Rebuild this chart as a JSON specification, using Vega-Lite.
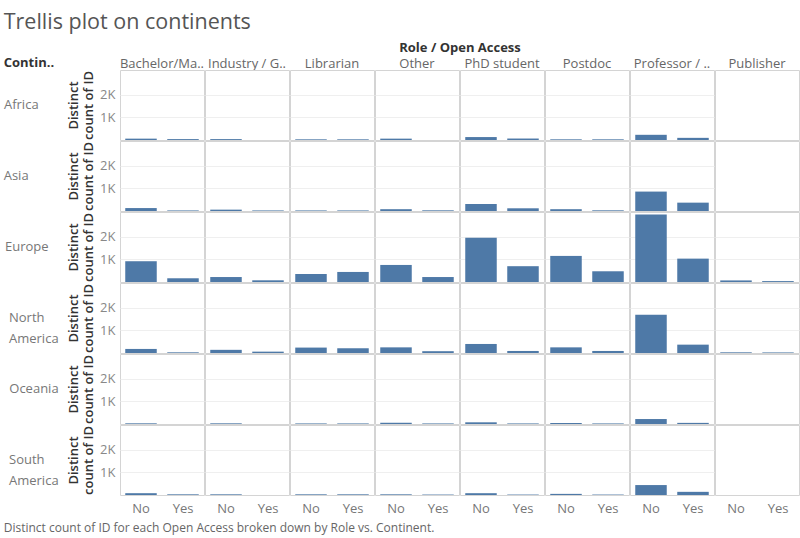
{
  "$schema": "https://vega.github.io/schema/vega-lite/v6.json",
  "background": "white",
  "padding": {"left": 3, "top": 11, "right": 1, "bottom": 2},
  "title": {
    "text": "Trellis plot on continents", "anchor": "start", "fontSize": 21.5, "font": "Open Sans", "fontWeight": "normal", "color": "#555555",
    "subtitle": "Contin..", "subtitleFont": "Open Sans", "subtitleFontSize": 13, "subtitleFontWeight": "bold", "subtitleColor": "#333333", "subtitlePadding": 24,
    "offset": -28
  },
  "vconcat": [
    {
      "title": {"text": "Distinct count of ID for each Open Access broken down by Role vs. Continent.", "orient": "bottom", "anchor": "start", "fontSize": 12, "font": "Open Sans", "fontWeight": "normal", "color": "#666666", "offset": 8},
      "data": {"values": [
        {"Continent": "Africa", "Role": "Bachelor/Ma..", "Open Access": "No", "Count": 60},
        {"Continent": "Africa", "Role": "Bachelor/Ma..", "Open Access": "Yes", "Count": 40},
        {"Continent": "Africa", "Role": "Industry / G..", "Open Access": "No", "Count": 40},
        {"Continent": "Africa", "Role": "Librarian", "Open Access": "No", "Count": 30},
        {"Continent": "Africa", "Role": "Librarian", "Open Access": "Yes", "Count": 30},
        {"Continent": "Africa", "Role": "Other", "Open Access": "No", "Count": 60},
        {"Continent": "Africa", "Role": "PhD student", "Open Access": "No", "Count": 130},
        {"Continent": "Africa", "Role": "PhD student", "Open Access": "Yes", "Count": 65},
        {"Continent": "Africa", "Role": "Postdoc", "Open Access": "No", "Count": 30},
        {"Continent": "Africa", "Role": "Postdoc", "Open Access": "Yes", "Count": 30},
        {"Continent": "Africa", "Role": "Professor / ..", "Open Access": "No", "Count": 230},
        {"Continent": "Africa", "Role": "Professor / ..", "Open Access": "Yes", "Count": 95},
        {"Continent": "Asia", "Role": "Bachelor/Ma..", "Open Access": "No", "Count": 130},
        {"Continent": "Asia", "Role": "Bachelor/Ma..", "Open Access": "Yes", "Count": 25},
        {"Continent": "Asia", "Role": "Industry / G..", "Open Access": "No", "Count": 60},
        {"Continent": "Asia", "Role": "Industry / G..", "Open Access": "Yes", "Count": 25},
        {"Continent": "Asia", "Role": "Librarian", "Open Access": "No", "Count": 25},
        {"Continent": "Asia", "Role": "Librarian", "Open Access": "Yes", "Count": 25},
        {"Continent": "Asia", "Role": "Other", "Open Access": "No", "Count": 80},
        {"Continent": "Asia", "Role": "Other", "Open Access": "Yes", "Count": 30},
        {"Continent": "Asia", "Role": "PhD student", "Open Access": "No", "Count": 310},
        {"Continent": "Asia", "Role": "PhD student", "Open Access": "Yes", "Count": 120},
        {"Continent": "Asia", "Role": "Postdoc", "Open Access": "No", "Count": 80},
        {"Continent": "Asia", "Role": "Postdoc", "Open Access": "Yes", "Count": 30},
        {"Continent": "Asia", "Role": "Professor / ..", "Open Access": "No", "Count": 860},
        {"Continent": "Asia", "Role": "Professor / ..", "Open Access": "Yes", "Count": 370},
        {"Continent": "Europe", "Role": "Bachelor/Ma..", "Open Access": "No", "Count": 920},
        {"Continent": "Europe", "Role": "Bachelor/Ma..", "Open Access": "Yes", "Count": 165},
        {"Continent": "Europe", "Role": "Industry / G..", "Open Access": "No", "Count": 220},
        {"Continent": "Europe", "Role": "Industry / G..", "Open Access": "Yes", "Count": 75},
        {"Continent": "Europe", "Role": "Librarian", "Open Access": "No", "Count": 355},
        {"Continent": "Europe", "Role": "Librarian", "Open Access": "Yes", "Count": 445},
        {"Continent": "Europe", "Role": "Other", "Open Access": "No", "Count": 755},
        {"Continent": "Europe", "Role": "Other", "Open Access": "Yes", "Count": 220},
        {"Continent": "Europe", "Role": "PhD student", "Open Access": "No", "Count": 1955},
        {"Continent": "Europe", "Role": "PhD student", "Open Access": "Yes", "Count": 700},
        {"Continent": "Europe", "Role": "Postdoc", "Open Access": "No", "Count": 1155},
        {"Continent": "Europe", "Role": "Postdoc", "Open Access": "Yes", "Count": 475},
        {"Continent": "Europe", "Role": "Professor / ..", "Open Access": "No", "Count": 2990},
        {"Continent": "Europe", "Role": "Professor / ..", "Open Access": "Yes", "Count": 1035},
        {"Continent": "Europe", "Role": "Publisher", "Open Access": "No", "Count": 70},
        {"Continent": "Europe", "Role": "Publisher", "Open Access": "Yes", "Count": 40},
        {"Continent": "North America", "Role": "Bachelor/Ma..", "Open Access": "No", "Count": 180},
        {"Continent": "North America", "Role": "Bachelor/Ma..", "Open Access": "Yes", "Count": 30},
        {"Continent": "North America", "Role": "Industry / G..", "Open Access": "No", "Count": 140},
        {"Continent": "North America", "Role": "Industry / G..", "Open Access": "Yes", "Count": 60},
        {"Continent": "North America", "Role": "Librarian", "Open Access": "No", "Count": 240},
        {"Continent": "North America", "Role": "Librarian", "Open Access": "Yes", "Count": 210},
        {"Continent": "North America", "Role": "Other", "Open Access": "No", "Count": 250},
        {"Continent": "North America", "Role": "Other", "Open Access": "Yes", "Count": 80},
        {"Continent": "North America", "Role": "PhD student", "Open Access": "No", "Count": 400},
        {"Continent": "North America", "Role": "PhD student", "Open Access": "Yes", "Count": 90},
        {"Continent": "North America", "Role": "Postdoc", "Open Access": "No", "Count": 250},
        {"Continent": "North America", "Role": "Postdoc", "Open Access": "Yes", "Count": 90},
        {"Continent": "North America", "Role": "Professor / ..", "Open Access": "No", "Count": 1690},
        {"Continent": "North America", "Role": "Professor / ..", "Open Access": "Yes", "Count": 370},
        {"Continent": "North America", "Role": "Publisher", "Open Access": "No", "Count": 30},
        {"Continent": "North America", "Role": "Publisher", "Open Access": "Yes", "Count": 25},
        {"Continent": "Oceania", "Role": "Bachelor/Ma..", "Open Access": "No", "Count": 30},
        {"Continent": "Oceania", "Role": "Industry / G..", "Open Access": "No", "Count": 30},
        {"Continent": "Oceania", "Role": "Librarian", "Open Access": "No", "Count": 25},
        {"Continent": "Oceania", "Role": "Librarian", "Open Access": "Yes", "Count": 25},
        {"Continent": "Oceania", "Role": "Other", "Open Access": "No", "Count": 55},
        {"Continent": "Oceania", "Role": "Other", "Open Access": "Yes", "Count": 25},
        {"Continent": "Oceania", "Role": "PhD student", "Open Access": "No", "Count": 75},
        {"Continent": "Oceania", "Role": "PhD student", "Open Access": "Yes", "Count": 25},
        {"Continent": "Oceania", "Role": "Postdoc", "Open Access": "No", "Count": 45},
        {"Continent": "Oceania", "Role": "Postdoc", "Open Access": "Yes", "Count": 25},
        {"Continent": "Oceania", "Role": "Professor / ..", "Open Access": "No", "Count": 220},
        {"Continent": "Oceania", "Role": "Professor / ..", "Open Access": "Yes", "Count": 50},
        {"Continent": "South America", "Role": "Bachelor/Ma..", "Open Access": "No", "Count": 80},
        {"Continent": "South America", "Role": "Bachelor/Ma..", "Open Access": "Yes", "Count": 30},
        {"Continent": "South America", "Role": "Industry / G..", "Open Access": "No", "Count": 30},
        {"Continent": "South America", "Role": "Librarian", "Open Access": "No", "Count": 30},
        {"Continent": "South America", "Role": "Librarian", "Open Access": "Yes", "Count": 30},
        {"Continent": "South America", "Role": "Other", "Open Access": "No", "Count": 30},
        {"Continent": "South America", "Role": "Other", "Open Access": "Yes", "Count": 20},
        {"Continent": "South America", "Role": "PhD student", "Open Access": "No", "Count": 80},
        {"Continent": "South America", "Role": "PhD student", "Open Access": "Yes", "Count": 20},
        {"Continent": "South America", "Role": "Postdoc", "Open Access": "No", "Count": 50},
        {"Continent": "South America", "Role": "Postdoc", "Open Access": "Yes", "Count": 20},
        {"Continent": "South America", "Role": "Professor / ..", "Open Access": "No", "Count": 440},
        {"Continent": "South America", "Role": "Professor / ..", "Open Access": "Yes", "Count": 140}
      ]},
      "spacing": {"row": -2, "column": -2},
      "facet": {
        "row": {
          "field": "Continent", "type": "nominal", "title": null,
          "header": {
            "labelAngle": 0, "labelOrient": "left", "labelAlign": "left", "labelBaseline": "middle",
            "labelFont": "Open Sans", "labelFontSize": 13, "labelColor": "#777777", "labelPadding": 9,
            "labelExpr": "datum.value == 'Africa' ? 'Africa\u2800\u2800' : datum.value == 'Asia' ? 'Asia\u2800\u2800\u2800' : datum.value == 'Europe' ? 'Europe\u2800' : split(datum.value, ' ')",
            "labelLineHeight": 21
          }
        },
        "column": {
          "field": "Role", "type": "nominal", "title": "Role / Open Access",
          "header": {
            "labelFont": "Open Sans", "labelFontSize": 13, "labelColor": "#666666", "labelPadding": -2,
            "titleFont": "Open Sans", "titleFontSize": 13, "titleFontWeight": "bold", "titleColor": "#333333", "titlePadding": -7
          }
        }
      },
      "spec": {
        "width": 84,
        "height": 70,
        "mark": {"type": "bar", "color": "#4e79a7"},
        "encoding": {
          "x": {
            "field": "Open Access", "type": "nominal",
            "scale": {"paddingInner": 0.25, "paddingOuter": 0.125},
            "axis": {"title": null, "labelAngle": 0, "ticks": false, "domain": false, "labelColor": "#777777", "labelFont": "Open Sans", "labelFontSize": 13, "labelPadding": 6}
          },
          "y": {
            "field": "Count", "type": "quantitative",
            "scale": {"domain": [0, 3100], "nice": false},
            "axis": {
              "values": [1000, 2000], "labelExpr": "datum.value / 1000 + 'K'",
              "title": ["Distinct", "count of ID"], "titleFont": "Open Sans", "titleFontSize": 13, "titleFontWeight": 600, "titleColor": "#333333", "titlePadding": 4,
              "labelFont": "Open Sans", "labelFontSize": 13, "labelColor": "#888888", "labelPadding": 4,
              "ticks": false, "domain": false, "gridColor": "#efefef"
            }
          }
        }
      }
    }
  ],
  "config": {"view": {"stroke": "#d4d4d4"}}
}
